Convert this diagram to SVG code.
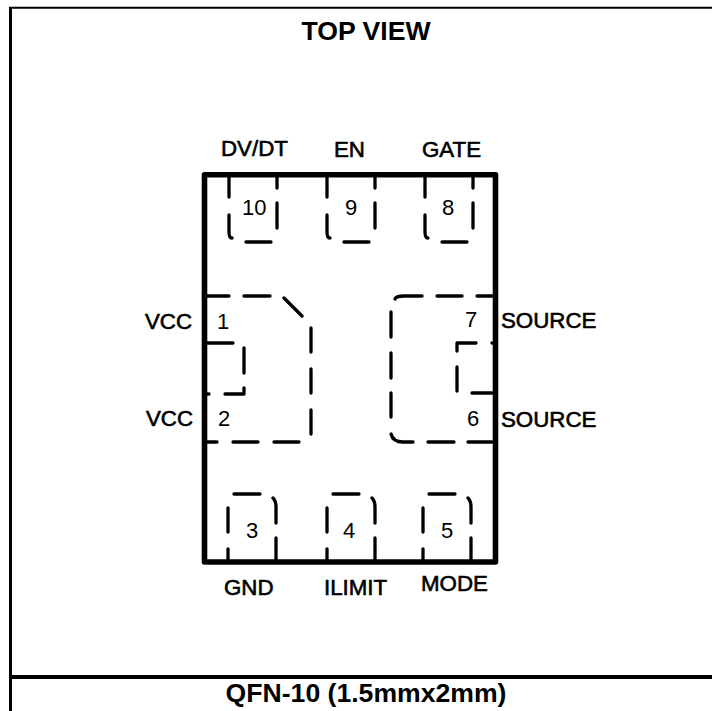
<svg xmlns="http://www.w3.org/2000/svg" width="712" height="711" viewBox="0 0 712 711">
<style>
text{font-family:"Liberation Sans",Arial,sans-serif;fill:#000}
.t{font-size:26.6px;font-weight:bold;text-anchor:middle}
.l{font-size:22.3px;stroke:#000;stroke-width:.6}
.n{font-size:22px}
.d{fill:none;stroke:#000;stroke-width:3.300;stroke-linecap:round;stroke-linejoin:round}
</style>
<rect width="712" height="711" fill="#fff"/>
<g id="frame" fill="none" stroke="#000">
<path d="M10.500 7V711" stroke-width="3"/>
<path d="M9 7.700H712" stroke-width="2"/>
<path d="M9 677H712" stroke-width="4"/>
</g>
<text class="t" x="366" y="40">TOP VIEW</text>
<text class="t" x="366" y="702">QFN-10 (1.5mmx2mm)</text>
<g id="package"><rect x="204.500" y="174.700" width="291" height="387.300" fill="none" stroke="#000" stroke-width="5.600" stroke-linejoin="round"/></g>
<g id="connectors">
<path id="pad10" class="d" d="M229 177V197M229 215V232Q229 238 232 238M246 242H271M277 177V188M277 203V228"/>
<path id="pad9" class="d" d="M327 177V197M327 215V232Q327 238 330 238M344 242H369M375 177V188M375 203V228"/>
<path id="pad8" class="d" d="M425 177V197M425 215V232Q425 238 428 238M442 242H467M473 177V188M473 203V228"/>
<path id="pad3" class="d" d="M228 560V549M228 532V508M234 494H260M273 498Q276 501 276 507V523M276 538V560"/>
<path id="pad4" class="d" d="M327 560V549M327 532V508M333 494H359M372 498Q375 501 375 507V523M375 538V560"/>
<path id="pad5" class="d" d="M423 560V549M423 532V508M429 494H455M468 498Q471 501 471 507V523M471 538V560"/>
<path id="pad12" class="d" d="M207 296H229M244 296H270M284 298L302 316M311 328V352M311 369V393M311 410V434M299 442H274M258 442H233M217 442H207M207 343H233M244 348V373M244 388V394H225M209 394H207"/>
<path id="pad67" class="d" d="M492 296H477M462 296H437M422 296H404Q396 296 395 299M391 312V337M391 353V378M391 393V417M391 434Q393 442 403 442H413M428 442H454M468 442H492M492 393H472M457 391V367M457 351V343H476M492 343H492"/>
</g>
<g id="pin10"><text class="l" x="221" y="156">DV/DT</text><text class="n" x="242" y="215">10</text></g>
<g id="pin9"><text class="l" x="334" y="157">EN</text><text class="n" x="345" y="215">9</text></g>
<g id="pin8"><text class="l" x="422" y="157">GATE</text><text class="n" x="442" y="215">8</text></g>
<g id="pin1"><text class="l" x="145" y="329">VCC</text><text class="n" x="217" y="329">1</text></g>
<g id="pin2"><text class="l" x="146" y="426">VCC</text><text class="n" x="218" y="426">2</text></g>
<g id="pin7"><text class="l" x="501" y="328">SOURCE</text><text class="n" x="465" y="327">7</text></g>
<g id="pin6"><text class="l" x="501" y="427">SOURCE</text><text class="n" x="467" y="426">6</text></g>
<g id="pin3"><text class="l" x="224" y="595">GND</text><text class="n" x="246" y="538">3</text></g>
<g id="pin4"><text class="l" x="324" y="595">ILIMIT</text><text class="n" x="343" y="538">4</text></g>
<g id="pin5"><text class="l" x="421" y="591">MODE</text><text class="n" x="441" y="538">5</text></g>
</svg>
